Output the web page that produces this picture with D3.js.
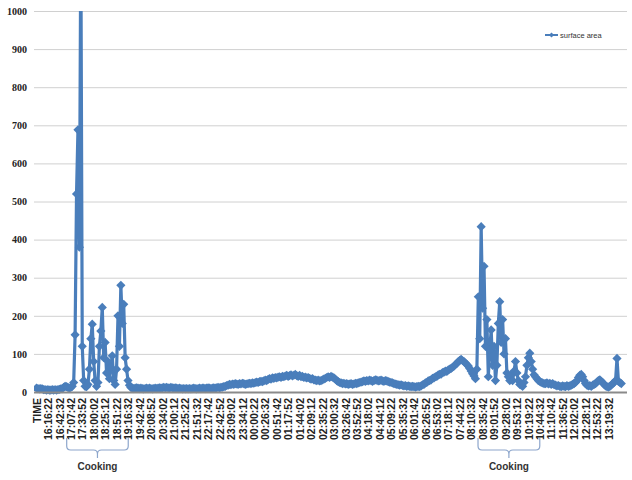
<!DOCTYPE html>
<html><head><meta charset="utf-8">
<script src="https://cdn.jsdelivr.net/npm/d3@7"></script>
<style>body{margin:0;background:#fff}</style>
</head><body>
<svg id="chart" width="632" height="480"></svg>
<script>
// ---- data ----
const seriesName = "surface area";
const tickLabels = ["TIME","16:16:22","16:42:32","17:07:42","17:33:52","18:00:02","18:25:12","18:51:22","19:16:32","19:42:42",
  "20:08:52","20:34:02","21:00:12","21:25:22","21:51:32","22:17:42","22:42:52","23:09:02","23:34:12","00:00:22",
  "00:26:32","00:51:42","01:17:52","01:44:02","02:09:12","02:35:22","03:00:32","03:26:42","03:52:52","04:18:02",
  "04:44:12","05:09:22","05:35:32","06:01:42","06:26:52","06:53:02","07:18:12","07:44:22","08:10:32","08:35:42",
  "09:01:52","09:28:02","09:53:12","10:19:22","10:44:32","11:10:42","11:36:52","12:02:02","12:28:12","12:53:22","13:19:32"];
const pointsPerLabel = 8;      // samples between two shown category labels
const categoryExtent = 413;    // samples spanned by the category axis
const yTicks = [0,100,200,300,400,500,600,700,800,900,1000];
const surfaceArea = [
  10,9,8,9,8,6,6,5,6,
  5,5,6,5,6,5,6,7,8,
  9,12,15,14,12,10,12,15,
  25,150,520,688,380,1200,120,30,15,14,20,60,140,178,80,30,15,25,120,160,222,90,130,50,80,35,65,95,30,20,60,200,120,280,180,230,90,60,30,18,12,
  10,9,10,11,10,9,10,9,8,9,
  10,9,10,9,8,9,10,9,10,11,
  10,11,12,11,12,11,10,12,11,10,
  11,10,9,10,9,8,9,8,9,8,
  9,8,9,10,9,8,9,10,9,10,
  10,9,10,11,10,9,10,11,10,11,12,11,12,13,14,15,17,
  18,20,19,21,20,22,21,20,22,21,23,22,20,21,22,23,
  22,24,23,25,26,25,27,28,27,29,
  31,30,33,35,34,37,36,38,37,39,40,
  38,41,40,42,44,41,43,45,42,44,46,43,41,44,
  40,41,38,39,37,38,36,34,35,32,31,30,31,29,
  30,32,34,36,38,40,38,41,39,37,34,30,27,
  25,24,22,23,21,22,20,21,22,20,21,23,22,24,25,
  26,27,29,28,30,29,31,30,28,30,32,31,29,30,31,29,28,30,29,27,26,
  25,24,22,21,20,19,18,19,17,16,17,15,16,15,14,15,14,13,14,15,14,
  16,19,20,24,25,29,30,32,36,37,40,41,45,46,47,51,52,55,54,58,60,
  62,65,68,72,75,80,83,86,82,80,76,72,68,62,55,48,42,
  35,60,250,140,434,220,330,120,190,40,110,163,70,120,30,70,180,237,130,190,100,140,50,40,30,45,30,55,80,50,30,20,18,15,25,40,70,90,102,80,60,45,40,35,30,28,25,24,22,
  22,24,21,23,20,22,19,18,
  16,17,15,14,16,15,14,17,15,16,18,20,
  22,25,30,38,44,46,40,30,22,
  18,16,17,15,18,20,22,
  26,30,32,28,25,20,
  16,14,13,15,18,22,
  25,30,88,28,25,22
];
// annotation periods, in label units
const annotationText = ["Cooking","Cooking"];
const annotationFrom = [2.64, 38.6];
const annotationTo = [8.02, 44.0];

// ---- chart ----
const svg = d3.select("#chart");
const W = 632, H = 480;
const plot = {left: 34, right: 627, top: 11, bottom: 392};
const blue = "#4a7ebb";

const x = d3.scaleLinear().domain([0, categoryExtent]).range([36.5, plot.right]);
const y = d3.scaleLinear().domain([0, 1000]).range([plot.bottom, plot.top]);

svg.append("rect").attr("width", W).attr("height", H).attr("fill", "#fff");

// y axis + gridlines
const yAxis = d3.axisLeft(y).tickValues(yTicks).tickFormat(d3.format("d"))
  .tickSizeInner(-(plot.right - plot.left)).tickSizeOuter(0).tickPadding(7);
const gy = svg.append("g").attr("transform", `translate(${plot.left},0)`).call(yAxis);
gy.select(".domain").remove();
gy.selectAll(".tick line").attr("stroke", "#d0d0d0").attr("stroke-width", 1);
gy.selectAll(".tick text").attr("font-family", "Liberation Serif, serif").attr("font-weight", "bold")
  .attr("font-size", 10).attr("fill", "#222");

// series clip
svg.append("clipPath").attr("id", "clip").append("rect")
  .attr("x", plot.left).attr("y", plot.top).attr("width", plot.right - plot.left).attr("height", plot.bottom - plot.top + 8);

const g = svg.append("g").attr("clip-path", "url(#clip)");
const line = d3.line().x((d, i) => x(i)).y(d => y(d));
g.append("path").datum(surfaceArea).attr("d", line).attr("fill", "none")
  .attr("stroke", blue).attr("stroke-width", 3.2).attr("stroke-linejoin", "round");
const diamond = "M0,-4.6L4.6,0L0,4.6L-4.6,0Z";
g.append("g").selectAll("path").data(surfaceArea).join("path")
  .attr("d", diamond).attr("transform", (d, i) => `translate(${x(i)},${y(d)})`).attr("fill", blue);

// x axis
const xAxis = d3.axisBottom(x)
  .tickValues(tickLabels.map((t, j) => j * pointsPerLabel))
  .tickFormat(d => tickLabels[Math.round(d / pointsPerLabel)])
  .tickSize(0).tickPadding(0);
const gx = svg.append("g").attr("transform", `translate(0,${plot.bottom})`).call(xAxis);
gx.select(".domain").attr("d", `M${plot.left},0.5H${plot.right}`).attr("stroke", "#8a8a8a").attr("stroke-width", 2);
gx.selectAll(".tick text")
  .attr("transform", "rotate(-90)").attr("text-anchor", "end")
  .attr("x", -6).attr("y", 0).attr("dy", "0.35em")
  .attr("font-family", "Liberation Sans, Arial, sans-serif").attr("font-weight", "bold")
  .attr("font-size", 10.5).attr("fill", "#222");

// annotation brackets
const ann = svg.append("g");
annotationText.forEach((t, k) => {
  const x1 = x(annotationFrom[k] * pointsPerLabel), x2 = x(annotationTo[k] * pointsPerLabel);
  const xm = (x1 + x2) / 2, yTop = 438, yH = 450, r = 4;
  const p = `M${x1},${yTop}V${yH - r}Q${x1},${yH} ${x1 + r},${yH}H${xm - r}Q${xm},${yH} ${xm},${yH + r}V${yH + 8}` +
            `M${xm},${yH + r}Q${xm},${yH} ${xm + r},${yH}H${x2 - r}Q${x2},${yH} ${x2},${yH - r}V${yTop}`;
  ann.append("path").attr("d", p).attr("fill", "none").attr("stroke", "#8da6cc").attr("stroke-width", 1.2);
  ann.append("text").attr("x", xm).attr("y", 470).attr("text-anchor", "middle")
    .attr("font-family", "Liberation Sans, Arial, sans-serif").attr("font-weight", "bold")
    .attr("font-size", 10).attr("fill", "#333").text(t);
});

// legend
const lg = svg.append("g").attr("transform", "translate(545,35)");
lg.append("line").attr("x1", 0).attr("x2", 13).attr("y1", 0).attr("y2", 0).attr("stroke", blue).attr("stroke-width", 2);
lg.append("path").attr("d", "M0,-2.6L2.6,0L0,2.6L-2.6,0Z").attr("transform", "translate(6.5,0)").attr("fill", blue);
lg.append("text").attr("x", 15).attr("y", 0).attr("dy", "0.35em")
  .attr("font-family", "Liberation Sans, Arial, sans-serif").attr("font-size", 7.5).attr("fill", "#333").text(seriesName);
</script>
</body></html>
